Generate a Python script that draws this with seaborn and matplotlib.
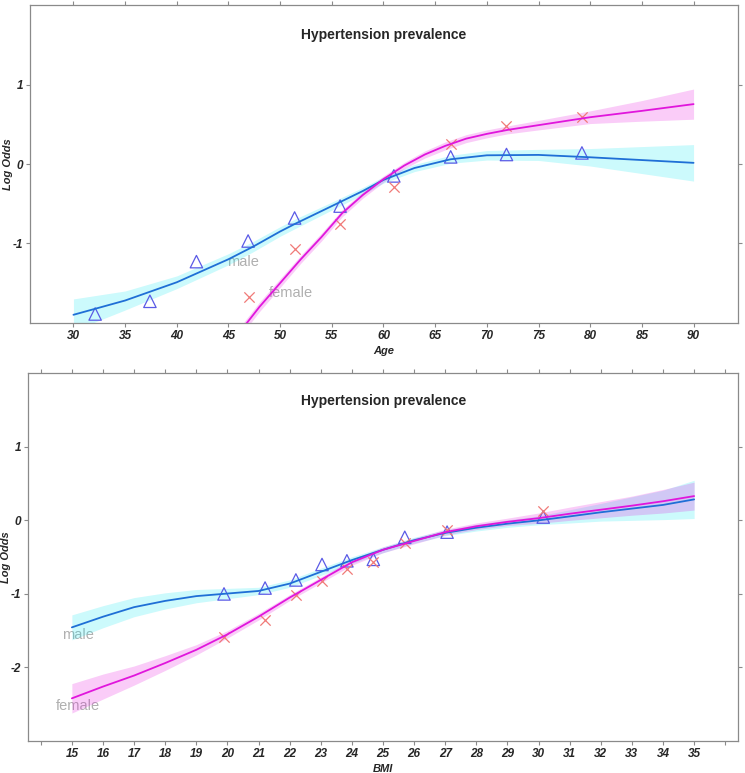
import numpy as np
import pandas as pd
import matplotlib
matplotlib.use("Agg")
import matplotlib.pyplot as plt
import seaborn as sns

sns.set_style("ticks")
plt.rcParams['font.family'] = ['Liberation Sans', 'DejaVu Sans']

# ---------------- data: Age panel ----------------
age_male_pts = [32.1, 37.4, 41.9, 46.9, 51.4, 55.8, 61.0, 66.5, 71.9, 79.2]
lo_male_pts = [-1.89, -1.73, -1.23, -0.97, -0.68, -0.53, -0.15, 0.09, 0.12, 0.14]
age_female_pts = [47.0, 51.4, 55.8, 61.0, 66.5, 71.9, 79.2]
lo_female_pts = [-1.68, -1.07, -0.755, -0.29, 0.25, 0.485, 0.59]

age_grid_m = [30, 35, 40, 45, 47.4, 50, 51.5, 55, 58, 60, 63, 66.5, 70, 75, 80, 85, 90]
age_fit_m = [-1.90, -1.72, -1.49, -1.20, -1.04, -0.85, -0.75, -0.53, -0.34, -0.20, -0.05, 0.06,
             0.11, 0.115, 0.085, 0.05, 0.015]
age_ci_m = [0.20, 0.12, 0.08, 0.07, 0.065, 0.06, 0.06, 0.05, 0.045, 0.04, 0.045, 0.05,
            0.06, 0.07, 0.11, 0.17, 0.23]

age_grid_f = [46.5, 48, 50, 52, 54, 56, 58, 60, 62, 64, 66, 68, 70, 72, 75, 80, 85, 90]
age_fit_f = [-2.05, -1.80, -1.50, -1.20, -0.92, -0.62, -0.39, -0.19, -0.02, 0.12, 0.23, 0.32,
             0.38, 0.43, 0.49, 0.59, 0.67, 0.755]
age_ci_f = [0.06, 0.06, 0.055, 0.05, 0.05, 0.045, 0.04, 0.04, 0.04, 0.045, 0.05, 0.05,
            0.05, 0.05, 0.06, 0.08, 0.13, 0.19]

# ---------------- data: BMI panel ----------------
bmi_pts = [19.89, 21.21, 22.2, 23.04, 23.84, 24.69, 25.70, 27.06, 30.15]
bmi_male_pts = [-1.00, -0.92, -0.81, -0.60, -0.55, -0.53, -0.23, -0.16, 0.045]
bmi_female_pts = [-1.58, -1.355, -1.02, -0.82, -0.66, -0.56, -0.31, -0.135, 0.126]

bmi_grid = [15, 16, 17, 18, 19, 20, 21, 22, 23, 24, 25, 26, 27, 28, 29, 30, 31, 32, 33, 34, 35]
bmi_fit_m = [-1.455, -1.31, -1.18, -1.095, -1.03, -0.995, -0.96, -0.86, -0.70, -0.54, -0.40,
             -0.27, -0.17, -0.10, -0.045, 0.0, 0.054, 0.11, 0.16, 0.21, 0.285]
bmi_ci_m = [0.17, 0.15, 0.13, 0.11, 0.09, 0.07, 0.05, 0.05, 0.05, 0.045, 0.04, 0.04, 0.04,
            0.045, 0.05, 0.06, 0.09, 0.12, 0.16, 0.2, 0.26]
bmi_fit_f = [-2.42, -2.26, -2.11, -1.94, -1.76, -1.55, -1.31, -1.05, -0.81, -0.57, -0.40,
             -0.28, -0.16, -0.08, -0.02, 0.03, 0.09, 0.145, 0.20, 0.26, 0.33]
bmi_ci_f = [0.20, 0.17, 0.13, 0.10, 0.07, 0.05, 0.045, 0.04, 0.04, 0.04, 0.04, 0.04, 0.04,
            0.045, 0.05, 0.07, 0.09, 0.11, 0.13, 0.16, 0.19]

# ---------------- styles ----------------
MALE_LINE = '#1f6fd6'
FEMALE_LINE = '#e016dc'
MALE_BAND = '#00e6f0'
FEMALE_BAND = '#e600dc'
MALE_MK = '#5a5ae6'
FEMALE_MK = '#f07a78'
SPINE = '#8a8a8a'
TXT_GRAY = '#b0b0b0'

fig = plt.figure(figsize=(7.45, 7.73), dpi=100)
ax1 = fig.add_axes([0.0403, 0.5825, 0.9503, 0.4106])
ax2 = fig.add_axes([0.038, 0.0414, 0.953, 0.4757])


def draw_panel(ax, gm, fm, cm, gf, ff, cf, xm, ym, xf, yf):
    gm, fm, cm = np.array(gm), np.array(fm), np.array(cm)
    gf, ff, cf = np.array(gf), np.array(ff), np.array(cf)
    ax.fill_between(gm, fm - cm, fm + cm, color=MALE_BAND, alpha=0.2, lw=0, zorder=2)
    ax.fill_between(gf, ff - cf, ff + cf, color=FEMALE_BAND, alpha=0.2, lw=0, zorder=2)
    sns.lineplot(x=gm, y=fm, ax=ax, color=MALE_LINE, lw=1.3, zorder=4)
    sns.lineplot(x=gf, y=ff, ax=ax, color=FEMALE_LINE, lw=1.3, zorder=4)
    sns.scatterplot(x=xm, y=ym, ax=ax, marker='^', s=80, facecolors='none',
                    edgecolor=MALE_MK, linewidth=0.9, zorder=3)
    sns.scatterplot(x=xf, y=yf, ax=ax, marker='x', s=55, color=FEMALE_MK,
                    linewidth=0.9, zorder=3)


def style_axes(ax, title, title_y, xlabel):
    for sp in ax.spines.values():
        sp.set_visible(True)
        sp.set_color(SPINE)
        sp.set_linewidth(0.9)
    ax.tick_params(axis='both', which='both', direction='out', length=3, width=0.8,
                   color=SPINE, top=True, right=True, labelsize=8.5, pad=2)
    for lab in ax.get_xticklabels() + ax.get_yticklabels():
        lab.set_fontweight('bold')
        lab.set_fontstyle('italic')
    ax.set_xlabel(xlabel, fontsize=8, fontweight='bold', fontstyle='italic', labelpad=3)
    ax.set_ylabel('Log Odds', fontsize=8, fontweight='bold', fontstyle='italic', labelpad=0)
    ax.text(0.5, title_y, title, transform=ax.transAxes, ha='center', va='center',
            fontsize=10, fontweight='bold')


# top: Age
draw_panel(ax1, age_grid_m, age_fit_m, age_ci_m, age_grid_f, age_fit_f, age_ci_f,
           age_male_pts, lo_male_pts, age_female_pts, lo_female_pts)
ax1.set_xlim(25.8, 94.3)
ax1.set_ylim(-2, 2)
ax1.set_xticks(np.arange(30, 91, 5))
ax1.set_yticks([-1, 0, 1])
ax1.set_yticklabels(['-1', '0', '1'])
ax1.text(46.4, -1.24, 'male', color=TXT_GRAY, fontsize=10.5, ha='center', va='center', zorder=1)
ax1.text(51.0, -1.63, 'female', color=TXT_GRAY, fontsize=10.5, ha='center', va='center', zorder=1)
style_axes(ax1, 'Hypertension prevalence', 0.905, 'Age')

# bottom: BMI
draw_panel(ax2, bmi_grid, bmi_fit_m, bmi_ci_m, bmi_grid, bmi_fit_f, bmi_ci_f,
           bmi_pts, bmi_male_pts, bmi_pts, bmi_female_pts)
ax2.set_xlim(13.6, 36.42)
ax2.set_ylim(-3, 2)
bmi_ticks = np.arange(14, 37, 1)
ax2.set_xticks(bmi_ticks)
ax2.set_xticklabels(['' if t in (14, 36) else str(t) for t in bmi_ticks])
ax2.set_yticks([-2, -1, 0, 1])
ax2.set_yticklabels(['-2', '-1', '0', '1'])
ax2.text(15.2, -1.56, 'male', color=TXT_GRAY, fontsize=10.5, ha='center', va='center', zorder=1)
ax2.text(15.2, -2.52, 'female', color=TXT_GRAY, fontsize=10.5, ha='center', va='center', zorder=1)
style_axes(ax2, 'Hypertension prevalence', 0.925, 'BMI')

fig.savefig('out.png', dpi=100)
